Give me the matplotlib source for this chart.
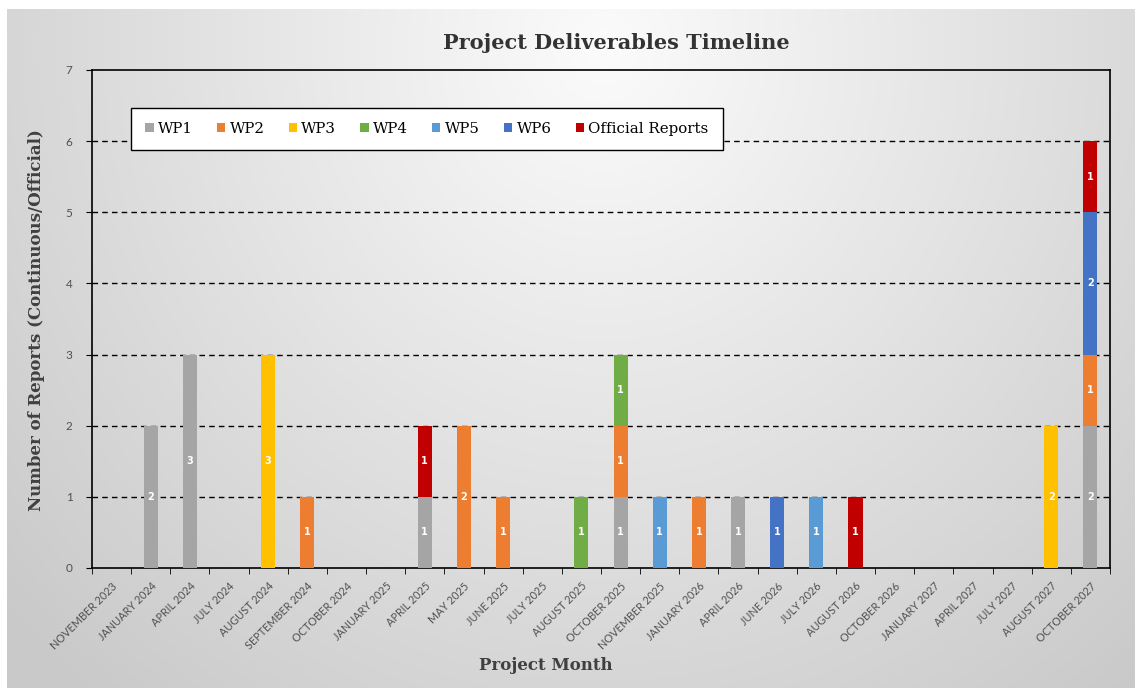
import numpy as np
import matplotlib
matplotlib.use("Agg")
import matplotlib.pyplot as plt
from matplotlib.patches import Patch

months = ["NOVEMBER 2023", "JANUARY 2024", "APRIL 2024", "JULY 2024", "AUGUST 2024",
          "SEPTEMBER 2024", "OCTOBER 2024", "JANUARY 2025", "APRIL 2025", "MAY 2025",
          "JUNE 2025", "JULY 2025", "AUGUST 2025", "OCTOBER 2025", "NOVEMBER 2025",
          "JANUARY 2026", "APRIL 2026", "JUNE 2026", "JULY 2026", "AUGUST 2026",
          "OCTOBER 2026", "JANUARY 2027", "APRIL 2027", "JULY 2027", "AUGUST 2027",
          "OCTOBER 2027"]

wp1 = [0, 2, 3, 0, 0, 0, 0, 0, 1, 0, 0, 0, 0, 1, 0, 0, 1, 0, 0, 0, 0, 0, 0, 0, 0, 2]
wp2 = [0, 0, 0, 0, 0, 1, 0, 0, 0, 2, 1, 0, 0, 1, 0, 1, 0, 0, 0, 0, 0, 0, 0, 0, 0, 1]
wp3 = [0, 0, 0, 0, 3, 0, 0, 0, 0, 0, 0, 0, 0, 0, 0, 0, 0, 0, 0, 0, 0, 0, 0, 0, 2, 0]
wp4 = [0, 0, 0, 0, 0, 0, 0, 0, 0, 0, 0, 0, 1, 1, 0, 0, 0, 0, 0, 0, 0, 0, 0, 0, 0, 0]
wp5 = [0, 0, 0, 0, 0, 0, 0, 0, 0, 0, 0, 0, 0, 0, 1, 0, 0, 0, 1, 0, 0, 0, 0, 0, 0, 0]
wp6 = [0, 0, 0, 0, 0, 0, 0, 0, 0, 0, 0, 0, 0, 0, 0, 0, 0, 1, 0, 0, 0, 0, 0, 0, 0, 2]
official = [0, 0, 0, 0, 0, 0, 0, 0, 1, 0, 0, 0, 0, 0, 0, 0, 0, 0, 0, 1, 0, 0, 0, 0, 0, 1]

series_names = ["WP1", "WP2", "WP3", "WP4", "WP5", "WP6", "Official Reports"]
series_values = [wp1, wp2, wp3, wp4, wp5, wp6, official]
colors = ["#A5A5A5", "#ED7D31", "#FFC000", "#70AD47", "#5B9BD5", "#4472C4", "#C00000"]

W, H = 1135, 691
fig = plt.figure(figsize=(W / 100, H / 100), dpi=100)
fig.patch.set_facecolor("white")

# background gradient panel
bg = fig.add_axes([0, 0, 1, 1], zorder=-5)
bg.set_xlim(0, W)
bg.set_ylim(H, 0)
bg.axis("off")
yy, xx = np.mgrid[0:H, 0:W]
cx, cy = 600, 40
r = np.sqrt(((xx - cx) / 700.0) ** 2 + ((yy - cy) / 750.0) ** 2)
v = np.clip(0.985 - 0.17 * r, 0.79, 1.0)
img = np.dstack([v, v, v])
bg.imshow(img, extent=(7, W, 688, 9), aspect="auto", interpolation="bilinear")

x0, x1, ytop, ybot = 92, 1110, 70, 568
ax = fig.add_axes([x0 / W, (H - ybot) / H, (x1 - x0) / W, (ybot - ytop) / H])
ax.set_facecolor("none")

n = len(months)
x = np.arange(n)
bottom = np.zeros(n)
for name, vals, c in zip(series_names, series_values, colors):
    vals = np.array(vals, dtype=float)
    ax.bar(x, vals, width=0.36, bottom=bottom, color=c, zorder=3, edgecolor="none")
    for i in range(n):
        if vals[i] > 0:
            ax.text(x[i], bottom[i] + vals[i] / 2, f"{int(vals[i])}", ha="center", va="center",
                    color="white", fontsize=7, fontweight="bold", family="DejaVu Sans", zorder=4)
    bottom += vals

ax.set_xlim(-0.5, n - 0.5)
ax.set_ylim(0, 7)
ax.set_yticks(range(0, 8))
for yv in range(1, 7):
    ax.axhline(yv, color="black", linestyle=(0, (4, 3)), linewidth=1.0, zorder=2)

ax.set_xticks(x)
ax.set_xticklabels(months, rotation=45, ha="right", rotation_mode="anchor",
                   fontsize=7.8, color="#505050", family="Lato")
ax.set_xticks(np.arange(-0.5, n, 1.0), minor=True)
ax.tick_params(axis="x", which="major", length=0, pad=9)
ax.tick_params(axis="x", which="minor", length=4, direction="out", color="black")
ax.tick_params(axis="y", length=4, direction="out", labelsize=8.5, labelcolor="#505050", pad=10)
for lab in ax.get_yticklabels():
    lab.set_family("Lato")

for s in ax.spines.values():
    s.set_color("black")
    s.set_linewidth(1.2)

fig.text(616 / W, 1 - 43 / H, "Project Deliverables Timeline", ha="center", va="center",
         fontsize=15, fontweight="bold", family="DejaVu Serif", color="#333333")
fig.text(37 / W, 1 - 320 / H, "Number of Reports (Continuous/Official)", ha="center", va="center",
         rotation=90, fontsize=12, fontweight="bold", family="DejaVu Serif", color="#404040")
fig.text(546 / W, 1 - 665 / H, "Project Month", ha="center", va="center",
         fontsize=12, fontweight="bold", family="DejaVu Serif", color="#404040")

handles = [Patch(facecolor=c, edgecolor="none") for c in colors]
leg = ax.legend(handles, series_names, loc="center left",
                bbox_to_anchor=((131 - x0) / (x1 - x0), (ybot - 129) / (ybot - ytop)),
                borderaxespad=0.0,
                ncol=7, frameon=True, fancybox=False, framealpha=1.0,
                handlelength=0.55, handleheight=0.55,
                handletextpad=0.3, columnspacing=1.6, borderpad=0.95,
                prop={"family": "DejaVu Serif", "size": 10.8})
leg.get_frame().set_edgecolor("black")
leg.get_frame().set_linewidth(1.0)
leg.get_frame().set_facecolor("white")
leg.set_zorder(5)

fig.savefig("out.png", dpi=100)
